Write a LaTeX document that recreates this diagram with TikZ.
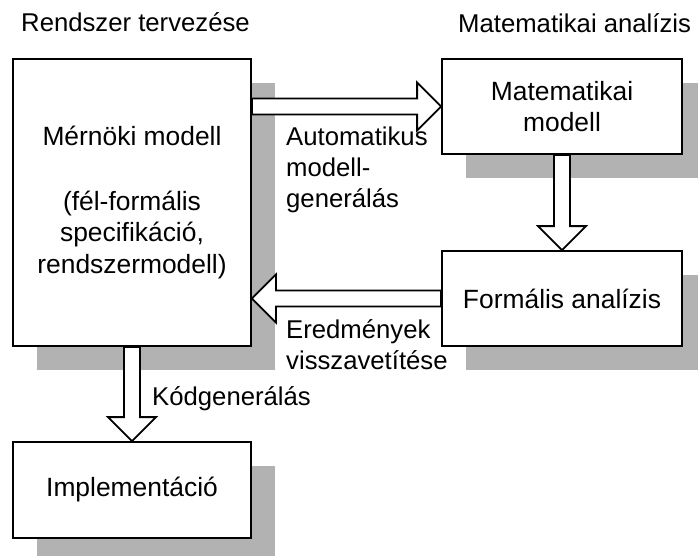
\documentclass[tikz,border=0pt]{standalone}
\usepackage{fontspec}
\setmainfont{Liberation Sans}
\usetikzlibrary{calc,shadows}
\tikzset{
  box/.style={
    % The shape:
    shape=rectangle,inner sep=0pt,
    % The border:
    line width=1.8pt,draw=black,
    % The filling and the shadow:
    fill=white,
    drop shadow={shadow xshift=24pt,shadow yshift=-24pt,fill=black!30,opacity=1},
    % The text:
    align=center,font=\fontsize{26.4pt}{31.5pt}\selectfont}}
\tikzset{
  lbl/.style={anchor=base west,align=left,inner sep=0pt}}
\tikzset{
  hollow/.style={line width=1.8pt,draw=black,fill=white,line join=miter}}
% a hollow block arrow from #1 to the tip #2
\newcommand{\blockarrow}[2]{%
  \coordinate (ba-s) at (#1);
  \coordinate (ba-t) at (#2);
  \coordinate (ba-h) at ($(ba-t)!24pt!(ba-s)$);
  \draw[hollow] ($(ba-s)!8pt!90:(ba-t)$) -- ($(ba-h)!8pt!90:(ba-t)$)
    -- ($(ba-h)!24pt!90:(ba-t)$) -- (ba-t) -- ($(ba-h)!24pt!-90:(ba-t)$)
    -- ($(ba-h)!8pt!-90:(ba-t)$) -- ($(ba-s)!8pt!-90:(ba-t)$) -- cycle;}

\begin{document}
\begin{tikzpicture}[x=1pt,y=-1pt,font=\fontsize{25.7pt}{31pt}\selectfont]
	\path[use as bounding box,clip] (0,0) rectangle (698,555);
	% Headings
	\node[lbl] (tervezes) at (21,31) {Rendszer tervezése};
	\node[lbl] (analizis) at (458,32) {Matematikai analízis};
	% Boxes
	\node[box,minimum width=238pt,minimum height=287pt] (mernoki) at (132,202.5)
		{Mérnöki modell\\[33pt](fél-formális\\specifikáció,\\rendszermodell)};
	\node[box,minimum width=240pt,minimum height=95pt] (matmodell) at (562,106.5)
		{Matematikai\\modell};
	\node[box,minimum width=240pt,minimum height=95pt] (formalis) at (562,298.5)
		{Formális analízis};
	\node[box,minimum width=238pt,minimum height=96pt] (impl) at (132,490)
		{Implementáció};
	% Arrows between the boxes
	\blockarrow{mernoki.east |- matmodell.west}{matmodell.west}
	\blockarrow{matmodell.south}{formalis.north}
	\blockarrow{formalis.west}{mernoki.east |- formalis.west}
	\blockarrow{mernoki.south}{impl.north}
	% Arrow labels
	\node[lbl] (automatikus) at (286,207) {Automatikus\\modell-\\generálás};
	\node[lbl] (eredmenyek) at (286,369) {Eredmények\\visszavetítése};
	\node[lbl] (kodgen) at (152,405) {Kódgenerálás};
\end{tikzpicture}
\end{document}
